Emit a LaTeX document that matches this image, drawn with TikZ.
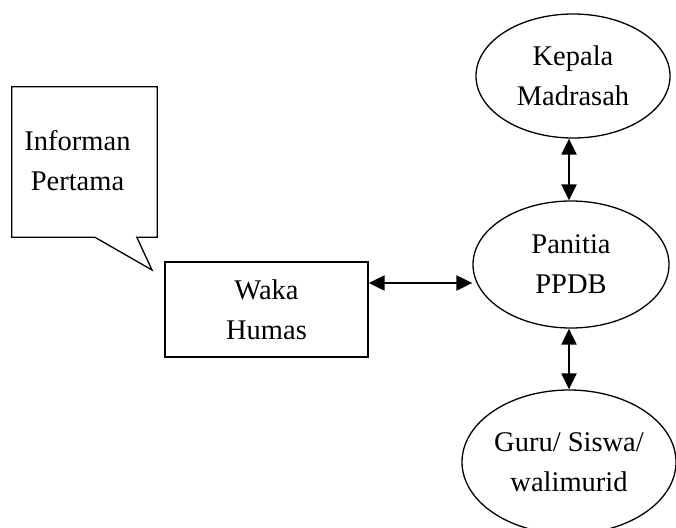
\documentclass[tikz,border=0pt]{standalone}
\usepackage{fontspec}
\setmainfont{Liberation Serif}
\usetikzlibrary{arrows.meta,shapes.geometric}
\begin{document}
\begin{tikzpicture}[x=1pt,y=1pt,
  every node/.style={font=\fontsize{28.5}{40}\selectfont, align=center, inner sep=0pt},
  shapeline/.style={draw, line width=1.3pt},
  roundbox/.style={shapeline, ellipse},
  boxnode/.style={shapeline, rectangle},
  biarrow/.style={line width=2.2pt, {Triangle[length=16pt,width=15pt]}-{Triangle[length=16pt,width=15pt]}}]
\useasboundingbox (0,0) rectangle (676,-527);

% speech bubble
\node[minimum width=145pt, minimum height=150pt] (info) at (84.5,-162) {};
\node (infotext) at (77.5,-161) {Informan\\Pertama};
\coordinate (tip) at (152,-270);
\draw[line width=1.3pt, line join=miter]
  (info.north west) -- (info.north east) -- (info.south east)
  -- ([xshift=125pt]info.south west) -- (tip) -- ([xshift=83pt]info.south west)
  -- (info.south west) -- cycle;

% nodes
\node[boxnode, minimum width=203pt, minimum height=95pt] (waka) at (266.5,-309.5) {Waka\\Humas};
\node[roundbox, minimum width=194pt, minimum height=124pt] (kep) at (573,-76) {Kepala\\Madrasah};
\node[roundbox, minimum width=196pt, minimum height=127pt] (pan) at (571,-264.5) {Panitia\\PPDB};
\node[roundbox, minimum width=214pt, minimum height=144pt] (guru) at (569,-462) {Guru/ Siswa/\\walimurid};

% connectors
\draw[biarrow] ([yshift=26.5pt]waka.east) -- ([yshift=26.5pt]waka.east -| pan.west);
\draw[biarrow] ([xshift=-4pt]kep.south) -- ([xshift=-4pt]kep.south |- pan.north);
\draw[biarrow] ([xshift=-2pt]pan.south) -- ([xshift=-2pt]pan.south |- guru.north);
\end{tikzpicture}
\end{document}
